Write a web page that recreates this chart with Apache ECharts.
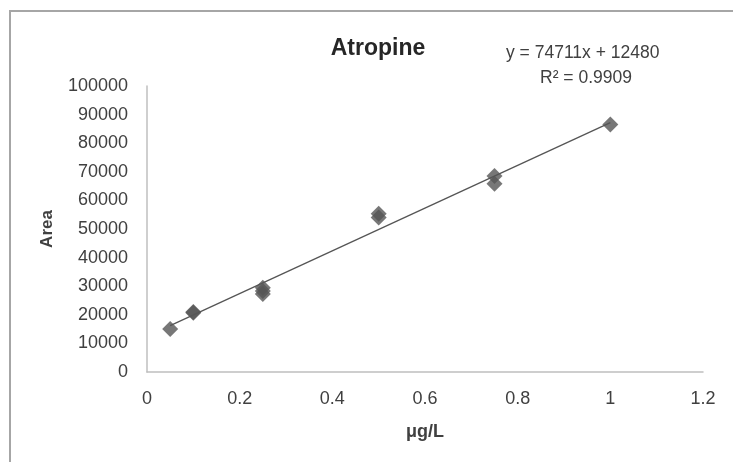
<!DOCTYPE html>
<html>
<head>
<meta charset="utf-8">
<script src="https://cdn.jsdelivr.net/npm/echarts@6/dist/echarts.min.js"></script>
<style>html,body{margin:0;padding:0;background:#fff}#c{width:733px;height:462px}</style>
</head>
<body>
<div id="c"></div>
<script>
var concentration = [0.05, 0.1, 0.1, 0.25, 0.25, 0.25, 0.5, 0.5, 0.75, 0.75, 1];
var areaValues = [15000, 20700, 21000, 29500, 28300, 27300, 55300, 54000, 68500, 65800, 86500];
var slope = 74711, intercept = 12480;
var trendX = [0.05, 1];
var eqText = 'y = 74711x + 12480';
var r2Text = 'R² = 0.9909';

var points = concentration.map(function (x, i) { return [x, areaValues[i]]; });
var trend = trendX.map(function (x) { return [x, slope * x + intercept]; });

var font = 'Liberation Sans';
var chart = echarts.init(document.getElementById('c'));
chart.setOption({
  animation: false,
  backgroundColor: '#fff',
  title: {
    text: 'Atropine', left: 373, top: 32, textAlign: 'center',
    textStyle: { fontFamily: font, fontSize: 23, fontWeight: 'bold', color: '#262626' }
  },
  graphic: [
    { type: 'rect', shape: { x: 10, y: 11, width: 740, height: 470 },
      style: { fill: 'none', stroke: '#a6a6a6', lineWidth: 2 } },
    { type: 'text', left: 590 - 84, top: 44,
      style: { text: eqText, fontFamily: font, fontSize: 17.5, fill: '#404040' } },
    { type: 'text', left: 590 - 50, top: 69,
      style: { text: r2Text, fontFamily: font, fontSize: 17.5, fill: '#404040' } }
  ],
  grid: { left: 147, right: 30, top: 86, bottom: 90 },
  xAxis: {
    type: 'value', min: 0, max: 1.2, interval: 0.2,
    name: 'μg/L', nameLocation: 'middle', nameGap: 51,
    nameTextStyle: { fontFamily: font, fontSize: 18, fontWeight: 'bold', color: '#404040' },
    axisLine: { show: true, lineStyle: { color: '#bfbfbf', width: 1.5 } },
    axisTick: { show: false },
    splitLine: { show: false },
    axisLabel: { fontFamily: font, fontSize: 18, color: '#404040', margin: 18 }
  },
  yAxis: {
    type: 'value', min: 0, max: 100000, interval: 10000,
    name: 'Area', nameLocation: 'middle', nameGap: 91, nameRotate: 90,
    nameTextStyle: { fontFamily: font, fontSize: 17, fontWeight: 'bold', color: '#404040' },
    axisLine: { show: true, lineStyle: { color: '#bfbfbf', width: 1.5 } },
    axisTick: { show: false },
    splitLine: { show: false },
    axisLabel: { fontFamily: font, fontSize: 18, color: '#404040', margin: 19,
      formatter: function (v) { return String(v); } }
  },
  series: [
    { type: 'scatter', data: points, symbol: 'diamond', symbolSize: 16,
      itemStyle: { color: '#555555' }, z: 3 },
    { type: 'line', data: trend, symbol: 'none', z: 4,
      lineStyle: { color: '#555', width: 1.3 } }
  ]
});
</script>
</body>
</html>
